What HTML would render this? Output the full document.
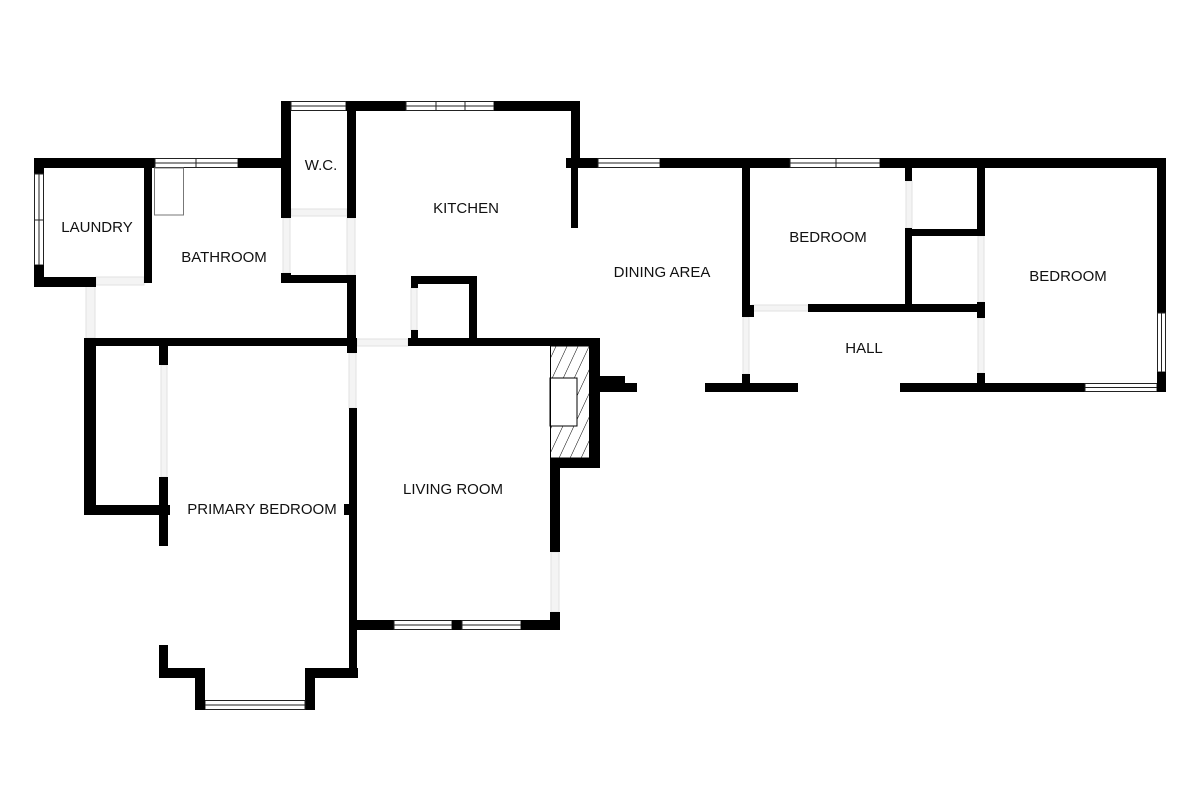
<!DOCTYPE html>
<html><head><meta charset="utf-8"><style>
html,body{margin:0;padding:0;background:#fff;}
svg{display:block;}
text{font-family:"Liberation Sans",sans-serif;font-size:15px;fill:#111;text-anchor:middle;dominant-baseline:middle;}
.w{fill:#000;}
.win{fill:#fff;stroke:#222;stroke-width:1;}
.d{fill:#f4f4f4;stroke:#e2e2e2;stroke-width:1;}
</style></head><body>
<svg width="1200" height="800" viewBox="0 0 1200 800" xmlns="http://www.w3.org/2000/svg">
<defs>
<pattern id="h" width="10" height="10" patternUnits="userSpaceOnUse" patternTransform="rotate(25)">
<line x1="0" y1="0" x2="0" y2="10" stroke="#000" stroke-width="1"/>
</pattern>
</defs>
<!-- door gaps -->
<rect class="d" x="96" y="277" width="48" height="8"/>
<rect class="d" x="86" y="286" width="9" height="52"/>
<rect class="d" x="283" y="218" width="7" height="55"/>
<rect class="d" x="347" y="218" width="8" height="57"/>
<rect class="d" x="291" y="209" width="56" height="7"/>
<rect class="d" x="357" y="339" width="51" height="7"/>
<rect class="d" x="349" y="353" width="7" height="55"/>
<rect class="d" x="411" y="288" width="6" height="42"/>
<rect class="d" x="161" y="365" width="6" height="112"/>
<rect class="d" x="551" y="552" width="8" height="60"/>
<rect class="d" x="743" y="317" width="6" height="57"/>
<rect class="d" x="752" y="305" width="56" height="6"/>
<rect class="d" x="906" y="181" width="6" height="47"/>
<rect class="d" x="978" y="236" width="6" height="66"/>
<rect class="d" x="978" y="318" width="6" height="55"/>

<!-- Laundry -->
<rect class="w" x="34" y="158" width="121" height="10"/>
<rect class="win" x="155" y="158.5" width="83" height="9"/><line x1="155" y1="163" x2="238" y2="163" stroke="#222"/><line x1="196" y1="158" x2="196" y2="168" stroke="#222"/>
<rect class="w" x="238" y="158" width="53" height="10"/>
<rect class="w" x="34" y="158" width="10" height="16"/>
<rect class="win" x="34.5" y="174" width="9" height="91"/><line x1="39" y1="174" x2="39" y2="265" stroke="#222"/><line x1="34" y1="220" x2="44" y2="220" stroke="#222"/>
<rect class="w" x="34" y="265" width="10" height="22"/>
<rect class="w" x="34" y="277" width="62" height="10"/>
<rect class="w" x="144" y="168" width="8" height="115"/>
<rect x="154.5" y="168" width="29" height="47" fill="#fff" stroke="#777" stroke-width="1"/>

<!-- WC -->
<rect class="w" x="281" y="101" width="10" height="117"/>
<rect class="win" x="291" y="101.5" width="55" height="9"/><line x1="291" y1="106" x2="346" y2="106" stroke="#222"/>
<rect class="w" x="346" y="101" width="60" height="10"/>
<rect class="win" x="406" y="101.5" width="88" height="9"/><line x1="406" y1="106" x2="494" y2="106" stroke="#222"/><line x1="436" y1="101" x2="436" y2="111" stroke="#222"/><line x1="465" y1="101" x2="465" y2="111" stroke="#222"/>
<rect class="w" x="494" y="101" width="86" height="10"/>
<rect class="w" x="347" y="101" width="9" height="117"/>
<rect class="w" x="281" y="273" width="10" height="10"/>
<rect class="w" x="283" y="275" width="72" height="8"/>
<rect class="w" x="347" y="275" width="9" height="78"/>

<!-- Kitchen right / dining top -->
<rect class="w" x="571" y="101" width="9" height="67"/>
<rect class="w" x="566" y="158" width="32" height="10"/>
<rect class="w" x="571" y="168" width="7" height="60"/>
<rect class="win" x="598" y="158.5" width="62" height="9"/><line x1="598" y1="163" x2="660" y2="163" stroke="#222"/>
<rect class="w" x="660" y="158" width="130" height="10"/>
<rect class="win" x="790" y="158.5" width="90" height="9"/><line x1="790" y1="163" x2="880" y2="163" stroke="#222"/><line x1="836" y1="158" x2="836" y2="168" stroke="#222"/>
<rect class="w" x="880" y="158" width="286" height="10"/>

<!-- kitchen closet -->
<rect class="w" x="411" y="276" width="66" height="8"/>
<rect class="w" x="469" y="276" width="8" height="66"/>
<rect class="w" x="411" y="276" width="7" height="12"/>
<rect class="w" x="411" y="330" width="7" height="12"/>

<!-- main horizontal wall -->
<rect class="w" x="84" y="338" width="273" height="8"/>
<rect class="w" x="408" y="338" width="192" height="8"/>

<!-- Primary bedroom -->
<rect class="w" x="84" y="338" width="12" height="177"/>
<rect class="w" x="84" y="505" width="86" height="10"/>
<rect class="w" x="159" y="346" width="9" height="19"/>
<rect class="w" x="159" y="477" width="9" height="69"/>
<rect class="w" x="349" y="338" width="8" height="15"/>
<rect class="w" x="349" y="408" width="8" height="270"/>
<rect class="w" x="344" y="504" width="6" height="11"/>
<rect class="w" x="305" y="668" width="53" height="10"/>
<rect class="w" x="305" y="668" width="10" height="42"/>
<rect class="win" x="205" y="700.5" width="100" height="9"/><line x1="205" y1="705" x2="305" y2="705" stroke="#222"/>
<rect class="w" x="195" y="668" width="10" height="42"/>
<rect class="w" x="159" y="668" width="46" height="10"/>
<rect class="w" x="159" y="645" width="9" height="33"/>

<!-- Living room -->
<rect class="w" x="357" y="620" width="37" height="10"/>
<rect class="win" x="394" y="620.5" width="58" height="9"/><line x1="394" y1="625" x2="452" y2="625" stroke="#222"/>
<rect class="w" x="452" y="620" width="10" height="10"/>
<rect class="win" x="462" y="620.5" width="59" height="9"/><line x1="462" y1="625" x2="521" y2="625" stroke="#222"/>
<rect class="w" x="521" y="620" width="39" height="10"/>
<rect class="w" x="550" y="459" width="10" height="93"/>
<rect class="w" x="550" y="612" width="10" height="18"/>
<!-- fireplace -->
<rect x="550" y="346" width="40" height="112" fill="url(#h)"/>
<rect x="550" y="378" width="27" height="48" fill="#fff" stroke="#000" stroke-width="1"/>
<rect x="550.5" y="346" width="39" height="112" fill="none" stroke="#000" stroke-width="1"/>
<rect class="w" x="590" y="338" width="10" height="130"/>
<rect class="w" x="550" y="458" width="50" height="10"/>
<rect class="w" x="600" y="376" width="25" height="16"/>
<rect class="w" x="600" y="383" width="37" height="9"/>

<!-- Bedroom 1 / hall -->
<rect class="w" x="742" y="168" width="8" height="149"/>
<rect class="w" x="750" y="305" width="4" height="12"/>
<rect class="w" x="742" y="374" width="8" height="18"/>
<rect class="w" x="705" y="383" width="93" height="9"/>
<rect class="w" x="808" y="304" width="177" height="8"/>
<rect class="w" x="905" y="168" width="7" height="13"/>
<rect class="w" x="905" y="228" width="7" height="84"/>
<rect class="w" x="905" y="229" width="80" height="7"/>
<rect class="w" x="977" y="168" width="8" height="68"/>
<rect class="w" x="977" y="302" width="8" height="16"/>
<rect class="w" x="977" y="373" width="8" height="19"/>
<rect class="w" x="900" y="383" width="185" height="9"/>
<rect class="win" x="1085" y="383.5" width="72" height="8"/><line x1="1085" y1="387.5" x2="1157" y2="387.5" stroke="#222"/>
<rect class="w" x="1157" y="158" width="9" height="155"/>
<rect class="win" x="1157.5" y="313" width="8" height="59"/><line x1="1161.5" y1="313" x2="1161.5" y2="372" stroke="#222"/>
<rect class="w" x="1157" y="372" width="9" height="20"/>

<!-- labels -->
<text x="97" y="228">LAUNDRY</text>
<text x="224" y="258">BATHROOM</text>
<text x="321" y="166">W.C.</text>
<text x="466" y="209">KITCHEN</text>
<text x="662" y="273">DINING AREA</text>
<text x="828" y="238">BEDROOM</text>
<text x="1068" y="277">BEDROOM</text>
<text x="864" y="349">HALL</text>
<text x="262" y="510">PRIMARY BEDROOM</text>
<text x="453" y="490">LIVING ROOM</text>
</svg>
</body></html>
